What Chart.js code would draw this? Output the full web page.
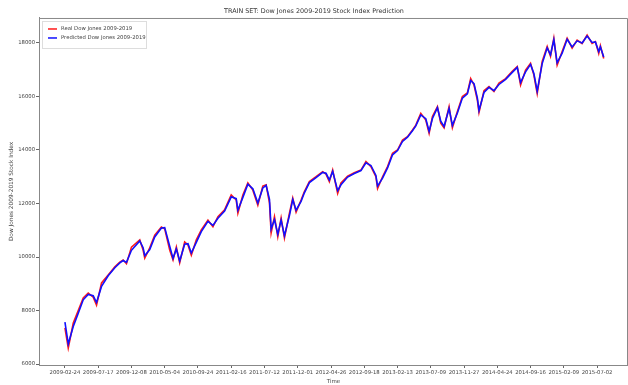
<!DOCTYPE html>
<html>
<head>
<meta charset="utf-8">
<title>TRAIN SET: Dow Jones 2009-2019 Stock Index Prediction</title>
<script src="https://cdn.jsdelivr.net/npm/chart.js@4.4.1/dist/chart.umd.min.js"></script>
<style>
  html, body { margin: 0; padding: 0; background: #fff; }
  canvas { display: block; }
</style>
</head>
<body>
<canvas id="myChart" width="628" height="385"></canvas>
<script>
// trading day index (0 = 2009-02-24)
const dayIndex = [0,10,25,40,55,70,85,95,110,130,150,165,175,185,200,225,235,240,255,270,
  290,300,315,325,335,345,360,370,380,395,410,430,445,460,480,500,515,520,535,550,
  565,580,595,605,615,620,630,640,650,660,675,685,695,710,720,735,755,775,785,795,
  805,820,830,850,870,890,905,920,935,940,955,970,985,1000,1015,1030,1045,1055,1070,1085,
  1095,1105,1120,1130,1140,1155,1165,1180,1195,1210,1220,1230,1240,1245,1260,1275,1290,1305,1325,1345,
  1360,1370,1385,1400,1410,1420,1435,1450,1460,1470,1480,1495,1510,1525,1540,1555,1570,1585,1595,1605,
  1610,1620];

const realValues = [7350,6600,7530,8000,8470,8650,8500,8200,9030,9330,
  9630,9810,9890,9750,10370,10640,10260,9960,10340,10820,
  11120,11050,10260,9890,10370,9780,10560,10450,10070,10640,
  11010,11380,11130,11510,11760,12320,12130,11640,12320,12770,
  12500,11940,12650,12700,12020,10900,11510,10760,11460,10710,
  11640,12200,11680,12130,12450,12820,13000,13190,13100,12820,
  13250,12380,12770,13020,13150,13250,13570,13380,13000,12560,
  13000,13380,13880,14000,14370,14500,14750,14930,15370,15120,
  14620,15250,15620,15000,14830,15620,14830,15440,16000,16130,
  16670,16430,15870,15400,16220,16370,16190,16500,16670,16940,
  17120,16430,16990,17240,16800,16110,17310,17870,17500,18180,
  17170,17680,18180,17810,18110,17980,18300,17980,18050,17610,
  17900,17420];

const predictedValues = [7570,6750,7400,7900,8400,8600,8550,8300,8900,9300,
  9600,9780,9870,9800,10250,10600,10350,10050,10280,10750,
  11080,11100,10400,9950,10300,9850,10480,10500,10150,10550,
  10950,11330,11180,11450,11720,12250,12180,11750,12230,12720,
  12550,12020,12580,12680,12150,11050,11400,10850,11380,10800,
  11550,12150,11750,12080,12400,12780,12970,13160,13130,12880,
  13200,12480,12700,12990,13120,13230,13520,13420,13050,12650,
  12950,13330,13820,13980,14320,14480,14720,14900,15310,15170,
  14700,15180,15580,15080,14880,15550,14920,15380,15940,16100,
  16600,16480,15950,15480,16150,16340,16220,16450,16640,16900,
  17090,16520,16920,17200,16860,16200,17230,17820,17560,18120,
  17260,17620,18140,17850,18080,18000,18260,18020,18040,17680,
  17850,17480];

// one label every 100 trading days
const dateLabels = ['2009-02-24','2009-07-17','2009-12-08','2010-05-04','2010-09-24',
  '2011-02-16','2011-07-12','2011-12-01','2012-04-26','2012-09-18','2013-02-13',
  '2013-07-09','2013-11-27','2014-04-24','2014-09-16','2015-02-09','2015-07-02'];
const yTicks = [6000, 8000, 10000, 12000, 14000, 16000, 18000];

const toPoints = vals => dayIndex.map((d, i) => ({ x: d, y: vals[i] }));
const FONT = 'DejaVu Sans';
const TXT = '#444';

// legend box inside the plot, top left (like matplotlib)
const insideLegend = {
  id: 'insideLegend',
  afterDraw(chart) {
    const ctx = chart.ctx, a = chart.chartArea;
    const x0 = a.left + 3, y0 = a.top + 3;
    ctx.save();
    ctx.fillStyle = 'rgba(255,255,255,0.85)';
    ctx.strokeStyle = '#ddd';
    ctx.lineWidth = 1;
    ctx.fillRect(x0, y0, 104, 27);
    ctx.strokeRect(x0 + 0.5, y0 + 0.5, 104, 27);
    ctx.font = '5.3px ' + FONT;
    ctx.textBaseline = 'middle';
    chart.data.datasets.forEach((ds, i) => {
      const y = y0 + 8 + i * 9;
      ctx.strokeStyle = ds.borderColor;
      ctx.lineWidth = 1.5;
      ctx.beginPath();
      ctx.moveTo(x0 + 6, y);
      ctx.lineTo(x0 + 15, y);
      ctx.stroke();
      ctx.fillStyle = TXT;
      ctx.fillText(ds.label, x0 + 19, y);
    });
    ctx.restore();
  }
};

// top and right spines
const frame = {
  id: 'frame',
  afterDraw(chart) {
    const ctx = chart.ctx, a = chart.chartArea;
    ctx.save();
    ctx.strokeStyle = '#888';
    ctx.lineWidth = 1;
    ctx.beginPath();
    ctx.moveTo(a.left, a.top + 0.5);
    ctx.lineTo(a.right - 0.5, a.top + 0.5);
    ctx.lineTo(a.right - 0.5, a.bottom);
    ctx.stroke();
    ctx.restore();
  }
};

new Chart(document.getElementById('myChart'), {
  type: 'line',
  data: {
    datasets: [{
      label: 'Real Dow Jones 2009-2019',
      data: toPoints(realValues),
      borderColor: '#ff1a1a',
      borderWidth: 1.6,
      pointRadius: 0,
      tension: 0,
      order: 2
    }, {
      label: 'Predicted Dow Jones 2009-2019',
      data: toPoints(predictedValues),
      borderColor: '#1010ff',
      borderWidth: 1.6,
      pointRadius: 0,
      tension: 0,
      order: 1
    }]
  },
  options: {
    responsive: false,
    animation: false,
    layout: { padding: 0 },
    plugins: {
      legend: { display: false },
      tooltip: { enabled: false },
      title: {
        display: true,
        text: 'TRAIN SET: Dow Jones 2009-2019 Stock Index Prediction',
        color: '#333',
        font: { family: FONT, size: 6.4, weight: 'normal' },
        padding: { top: 8, bottom: 2.3 }
      }
    },
    scales: {
      x: {
        type: 'linear',
        min: -78,
        max: 1693,
        afterBuildTicks: s => { s.ticks = dateLabels.map((_, i) => ({ value: i * 100 })); },
        afterFit: s => { s.height = 20; },
        ticks: {
          autoSkip: false,
          maxRotation: 0,
          padding: 1,
          color: TXT,
          font: { family: FONT, size: 5.3 },
          callback: v => dateLabels[v / 100]
        },
        grid: { display: true, drawOnChartArea: false, drawTicks: true, tickLength: 3, color: '#666' },
        border: { display: true, color: '#888' },
        title: {
          display: true,
          text: 'Time',
          color: TXT,
          font: { family: FONT, size: 5.5 },
          padding: { top: 0, bottom: 0 }
        }
      },
      y: {
        min: 5963,
        max: 18935,
        afterBuildTicks: s => { s.ticks = yTicks.map(v => ({ value: v })); },
        afterFit: s => { s.width = 39; },
        ticks: {
          padding: 1,
          color: TXT,
          font: { family: FONT, size: 5.3 },
          callback: v => String(v)
        },
        grid: { display: true, drawOnChartArea: false, drawTicks: true, tickLength: 3, color: '#666' },
        border: { display: true, color: '#888' },
        title: {
          display: true,
          text: 'Dow Jones 2009-2019 Stock Index',
          color: TXT,
          font: { family: FONT, size: 5.8 },
          padding: { top: 8.5, bottom: 0 }
        }
      }
    }
  },
  plugins: [insideLegend, frame]
});
</script>
</body>
</html>
